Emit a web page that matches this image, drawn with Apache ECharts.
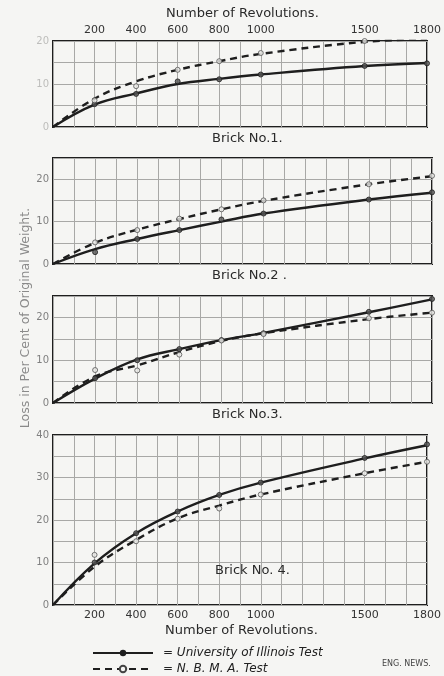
<!DOCTYPE html>
<html><head><meta charset="utf-8">
<script src="https://cdn.jsdelivr.net/npm/echarts@6/dist/echarts.min.js"></script>
<style>html,body{margin:0;padding:0;background:#f5f5f3;}#c{width:444px;height:676px;}</style>
</head><body><div id="c"></div>
<script>
// Revolutions at which readings were taken
const revs = [0, 200, 400, 600, 800, 1000, 1500, 1800];
const ptRevs = [200, 400, 600, 800, 1000, 1500, 1800];
const xTickLabels = [200, 400, 600, 800, 1000, 1500, 1800];

// Brick No.1 (loss, per cent)
const b1IllinoisCurve = [0, 5.2, 7.8, 10.0, 11.2, 12.2, 14.2, 14.9];
const b1NbmaCurve     = [0, 6.6, 10.6, 13.3, 15.3, 17.0, 19.8, 20.4];
const b1IllinoisPts   = [5.3, 7.7, 10.6, 11.1, 12.2, 14.2, 14.8];
const b1NbmaPts       = [6.2, 9.5, 13.3, 15.3, 17.2, 20.0, 20.6];
// Brick No.2
const b2IllinoisCurve = [0, 3.5, 5.9, 8.0, 10.0, 11.9, 15.2, 16.8];
const b2NbmaCurve     = [0, 5.0, 8.1, 10.6, 12.9, 14.9, 18.8, 20.7];
const b2IllinoisPts   = [2.8, 5.9, 8.0, 10.5, 11.9, 15.2, 16.9];
const b2NbmaPts       = [5.1, 8.0, 10.7, 12.9, 15.0, 18.8, 20.8];
// Brick No.3
const b3IllinoisCurve = [0, 5.7, 10.2, 12.6, 14.7, 16.4, 21.2, 24.2];
const b3NbmaCurve     = [0, 6.2, 8.8, 11.9, 14.5, 16.3, 19.6, 21.1];
const b3IllinoisPts   = [5.8, 10.0, 12.6, 14.7, 16.3, 21.3, 24.3];
const b3NbmaPts       = [7.7, 7.6, 11.3, 14.6, 16.1, 19.8, 21.1];
// Brick No.4
const b4IllinoisCurve = [0, 9.8, 16.9, 22.0, 25.9, 28.8, 34.5, 37.6];
const b4NbmaCurve     = [0, 9.0, 15.3, 20.4, 23.4, 26.0, 31.0, 33.7];
const b4IllinoisPts   = [10.0, 16.9, 22.0, 25.9, 28.8, 34.6, 37.8];
const b4NbmaPts       = [11.8, 15.0, 20.3, 22.7, 26.0, 31.0, 33.7];

const yMax = [20, 25, 25, 40];
const brickTitles = ['Brick No.1.', 'Brick No.2 .', 'Brick No.3.', 'Brick No. 4.'];
const seriesNames = ['University of Illinois Test', 'N. B. M. A. Test'];

const bricks = [
  [b1IllinoisCurve, b1NbmaCurve, b1IllinoisPts, b1NbmaPts],
  [b2IllinoisCurve, b2NbmaCurve, b2IllinoisPts, b2NbmaPts],
  [b3IllinoisCurve, b3NbmaCurve, b3IllinoisPts, b3NbmaPts],
  [b4IllinoisCurve, b4NbmaCurve, b4IllinoisPts, b4NbmaPts]
];

const FONT = 'DejaVu Sans';
const INK = '#1e1e1e';
const GRIDC = '#a8a8a6';
const BG = '#f5f5f3';

const gridPos = [
  {top: 41, height: 86},
  {top: 158, height: 106},
  {top: 296, height: 107},
  {top: 435, height: 170}
];

const grids = gridPos.map(g => ({
  left: 53, width: 379, top: g.top, height: g.height,
  show: true, borderColor: INK, borderWidth: 2, backgroundColor: 'transparent'
}));

const xAxes = gridPos.map((g, i) => ({
  type: 'value', gridIndex: i, min: 0, max: 1800, interval: 100,
  position: i === 0 ? 'top' : 'bottom',
  axisLine: {show: false}, axisTick: {show: false},
  splitLine: {show: true, lineStyle: {color: GRIDC, width: 1}},
  axisLabel: {
    show: i === 0 || i === 3, color: '#333', fontFamily: FONT, fontSize: 11, margin: 5,
    formatter: v => xTickLabels.includes(v) ? String(v) : ''
  }
}));

const yAxes = gridPos.map((g, i) => ({
  type: 'value', gridIndex: i, min: 0, max: yMax[i], interval: 5,
  axisLine: {show: false}, axisTick: {show: false},
  splitLine: {show: true, lineStyle: {color: GRIDC, width: 1}},
  axisLabel: {
    color: i === 0 ? '#bdbdbb' : '#808080', fontFamily: FONT, fontSize: 10, margin: 4,
    formatter: v => (v % 10 === 0) ? String(v) : ''
  }
}));

const series = [];
bricks.forEach((b, i) => {
  series.push({
    name: seriesNames[0], type: 'line', xAxisIndex: i, yAxisIndex: i, smooth: 0.4,
    data: revs.map((r, k) => [r, b[0][k]]),
    symbol: 'circle', symbolSize: 5, showSymbol: false,
    itemStyle: {color: INK},
    lineStyle: {color: INK, width: 2.4}, z: 3
  });
  series.push({
    name: seriesNames[1], type: 'line', xAxisIndex: i, yAxisIndex: i, smooth: 0.4,
    data: revs.map((r, k) => [r, b[1][k]]),
    symbol: 'circle', symbolSize: 4, showSymbol: false,
    itemStyle: {color: BG, borderColor: '#444', borderWidth: 1},
    lineStyle: {color: INK, width: 2.4, type: [7, 5]}, z: 3
  });
  series.push({
    name: 'ill-pts', type: 'scatter', xAxisIndex: i, yAxisIndex: i,
    data: ptRevs.map((r, k) => [r, b[2][k]]),
    symbol: 'circle', symbolSize: 5,
    itemStyle: {color: '#555', borderColor: INK, borderWidth: 1}, z: 4
  });
  series.push({
    name: 'nbma-pts', type: 'scatter', xAxisIndex: i, yAxisIndex: i,
    data: ptRevs.map((r, k) => [r, b[3][k]]),
    symbol: 'circle', symbolSize: 5,
    itemStyle: {color: '#e8e8e6', borderColor: '#555', borderWidth: 1}, z: 4
  });
});

const titleY = [140, 277, 416, 572];
const titleX = [212, 212, 212, 215];
const graphics = brickTitles.map((t, i) => ({
  type: 'text', left: titleX[i], top: titleY[i] - 8, z: 10,
  style: {text: t, font: '13px ' + FONT, fill: '#2a2a2a'}
}));
graphics.push({type: 'text', left: 166, top: 7,
  style: {text: 'Number of Revolutions.', font: '13px ' + FONT, fill: '#2a2a2a'}});
graphics.push({type: 'text', left: 165, top: 624,
  style: {text: 'Number of Revolutions.', font: '13px ' + FONT, fill: '#2a2a2a'}});
graphics.push({type: 'text', x: 26, y: 318, rotation: Math.PI / 2,
  style: {text: 'Loss in Per Cent of Original Weight.', font: '12.5px ' + FONT, fill: '#8a8a8a',
    textAlign: 'center', textVerticalAlign: 'middle'}});
graphics.push({type: 'text', left: 382, top: 660,
  style: {text: 'ENG. NEWS.', font: '8px ' + FONT, fill: '#444'}});

const legendBase = {
  left: 92, itemWidth: 60, itemHeight: 8, selectedMode: false, padding: 0,
  formatter: n => '= ' + n,
  textStyle: {fontFamily: FONT, fontStyle: 'italic', fontSize: 12, color: '#222', padding: [0, 0, 0, 5]}
};

const chart = echarts.init(document.getElementById('c'), null, {renderer: 'canvas'});
chart.setOption({
  backgroundColor: BG,
  animation: false,
  grid: grids, xAxis: xAxes, yAxis: yAxes, series: series,
  legend: [
    Object.assign({}, legendBase, {data: [seriesNames[0]], top: 647}),
    Object.assign({}, legendBase, {data: [seriesNames[1]], top: 663})
  ],
  graphic: graphics
});
</script></body></html>
